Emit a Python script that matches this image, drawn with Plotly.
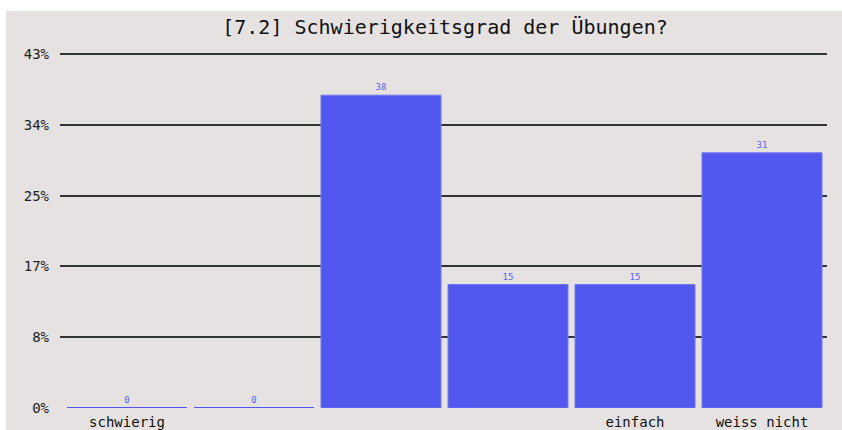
import plotly.graph_objects as go

title = "[7.2] Schwierigkeitsgrad der Übungen?"
categories = ["schwierig", "", "", "", "einfach", "weiss nicht"]
values = [0, 0, 38, 15, 15, 31]
y_max = 43
tick_labels = ["0%", "8%", "17%", "25%", "34%", "43%"]

positions = list(range(len(categories)))
tick_vals = [y_max * k / 5 for k in range(6)]

W, H = 842, 430
ml, mr, mt, mb = 60, 15, 52, 22
pw, ph = W - ml - mr, H - mt - mb
y_top = y_max * ph / (ph - 2)

fig = go.Figure()
fig.add_trace(go.Bar(
    x=positions, y=values,
    marker=dict(color="#5258EE",
                line=dict(color=["#4F55F2" if v == 0 else "#7478F2" for v in values],
                          width=[2 if v == 0 else 1 for v in values])),
    text=[str(v) for v in values], textposition="outside",
    textfont=dict(family="DejaVu Sans Mono", size=9, color="#5A5FF5"),
    cliponaxis=False, width=120 / 127,
    hoverinfo="skip",
))

fig.update_layout(
    width=W, height=H,
    margin=dict(l=ml, r=mr, t=mt, b=mb, pad=0, autoexpand=False),
    paper_bgcolor="white", plot_bgcolor="rgba(0,0,0,0)",
    showlegend=False,
    title=dict(text=title, x=445 / W, xanchor="center", y=1 - 27 / H, yanchor="middle",
               font=dict(family="DejaVu Sans Mono", size=20, color="#111")),
    shapes=[dict(type="rect", xref="paper", yref="paper", layer="below",
                 x0=(6 - ml) / pw, x1=(W + 5 - ml) / pw,
                 y0=-(mb + 5) / ph, y1=(H - mb - 11) / ph,
                 fillcolor="#E6E2E1", line=dict(width=0))],
    xaxis=dict(range=[-0.5 - 3.5 / 127, 5.5 + 1.5 / 127], tickvals=positions, ticktext=categories,
               showgrid=False, zeroline=False, showline=False, ticks="",
               ticklabelstandoff=4, automargin=False,
               tickfont=dict(family="DejaVu Sans Mono", size=14, color="#111")),
    yaxis=dict(range=[0, y_top], tickvals=tick_vals, ticktext=tick_labels,
               showgrid=True, gridcolor="#333333", gridwidth=1.5, zeroline=False, showline=False,
               ticks="", ticklabelstandoff=10, automargin=False,
               tickfont=dict(family="DejaVu Sans Mono", size=14, color="#222")),
)

fig.write_html("out.html", config={"displayModeBar": False},
               post_script="document.body.style.margin='0';")
